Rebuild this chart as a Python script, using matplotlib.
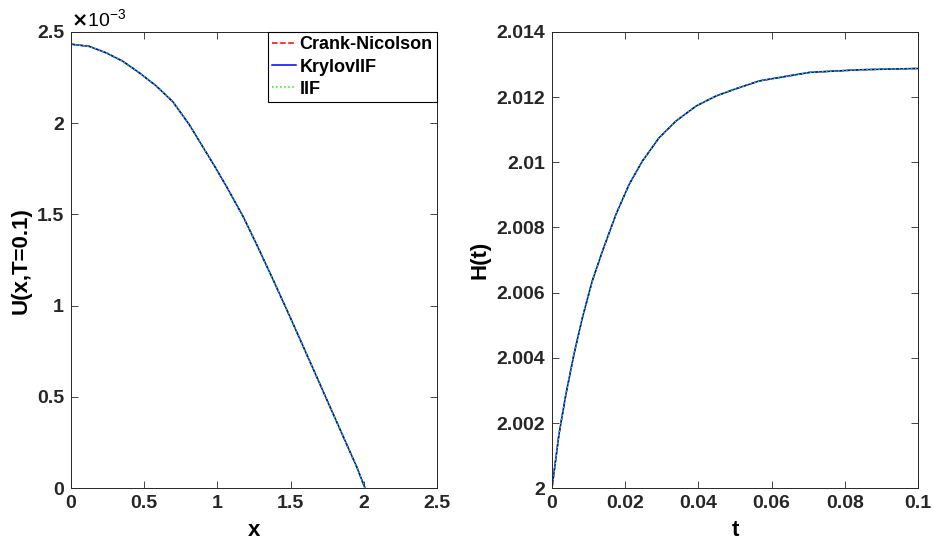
import numpy as np
import matplotlib.pyplot as plt
from matplotlib.ticker import FuncFormatter

plt.rcParams['font.family'] = ['Liberation Sans', 'DejaVu Sans']
plt.rcParams['font.weight'] = 'bold'

# values
x_vals = [0, 0.125, 0.239, 0.353, 0.467, 0.581, 0.695, 0.808, 0.893, 0.984,
          1.064, 1.177, 1.268, 1.382, 1.496, 1.587, 1.678, 1.769, 1.860,
          1.951, 2.008]
u_vals = np.array([2.433, 2.421, 2.386, 2.340, 2.276, 2.205, 2.118, 1.992,
                   1.880, 1.760, 1.650, 1.486, 1.335, 1.139, 0.938, 0.774,
                   0.610, 0.445, 0.281, 0.117, 0.0]) * 1e-3

t_vals = [0, 0.0019, 0.0038, 0.0060, 0.0083, 0.0110, 0.0138, 0.0175, 0.0211,
          0.0247, 0.0293, 0.0339, 0.0394, 0.0449, 0.0503, 0.0567, 0.0704,
          0.0841, 0.1]
h_vals = [2.0, 2.00165, 2.00288, 2.00411, 2.00523, 2.00636, 2.00728, 2.00841,
          2.00933, 2.01004, 2.01076, 2.01127, 2.01173, 2.01204, 2.01226,
          2.01250, 2.01276, 2.01284, 2.01288]

names = ['Crank-Nicolson', 'KrylovIIF', 'IIF']
styles = [('r', '--'), ('b', '-'), ('#00ff00', ':')]

fig = plt.figure(figsize=(9.34, 5.51), dpi=100)
ax1 = fig.add_axes([0.076, 0.114, 0.392, 0.828])
ax2 = fig.add_axes([0.591, 0.114, 0.392, 0.828])

gfmt = FuncFormatter(lambda v, p: '%g' % round(v, 6))

for (c, ls), nm in zip(styles, names):
    ax1.plot(x_vals, u_vals, color=c, linestyle=ls, linewidth=1.1, label=nm)
    ax2.plot(t_vals, h_vals, color=c, linestyle=ls, linewidth=1.1, label=nm)

ax1.set_xlim(0, 2.5)
ax1.set_ylim(0, 2.5e-3)
ax1.set_xticks(np.arange(0, 2.51, 0.5))
ax1.set_yticks(np.arange(0, 2.51e-3, 0.5e-3))
ax1.xaxis.set_major_formatter(gfmt)
ax1.yaxis.set_major_formatter(FuncFormatter(lambda v, p: '%g' % round(v * 1e3, 6)))
ax1.text(0.0, 1.003, r'$\times\mathregular{10^{-3}}$', transform=ax1.transAxes,
         fontsize=14, fontweight='normal', va='bottom', ha='left')
ax1.set_xlabel('x', fontsize=16, fontweight='bold', labelpad=6)
ax1.set_ylabel('U(x,T=0.1)', fontsize=16, fontweight='bold', labelpad=4)
leg = ax1.legend(loc='upper right', borderaxespad=0, fancybox=False,
                 edgecolor='black', framealpha=1, fontsize=13,
                 handlelength=1.3, handletextpad=0.2, labelspacing=0.28,
                 borderpad=0.25)
leg.get_frame().set_linewidth(0.8)

ax2.set_xlim(0, 0.1)
ax2.set_ylim(2, 2.014)
ax2.set_xticks(np.arange(0, 0.101, 0.02))
ax2.set_yticks(np.arange(2, 2.0141, 0.002))
ax2.xaxis.set_major_formatter(gfmt)
ax2.yaxis.set_major_formatter(gfmt)
ax2.set_xlabel('t', fontsize=16, fontweight='bold', labelpad=6)
ax2.set_ylabel('H(t)', fontsize=16, fontweight='bold', labelpad=4)

for ax in (ax1, ax2):
    ax.tick_params(direction='in', top=True, right=True, labelsize=14,
                   length=5, width=0.6, colors='#262626', pad=5)
    for sp in ax.spines.values():
        sp.set_color('#262626')
        sp.set_linewidth(0.7)

fig.savefig('out.png', dpi=100)
